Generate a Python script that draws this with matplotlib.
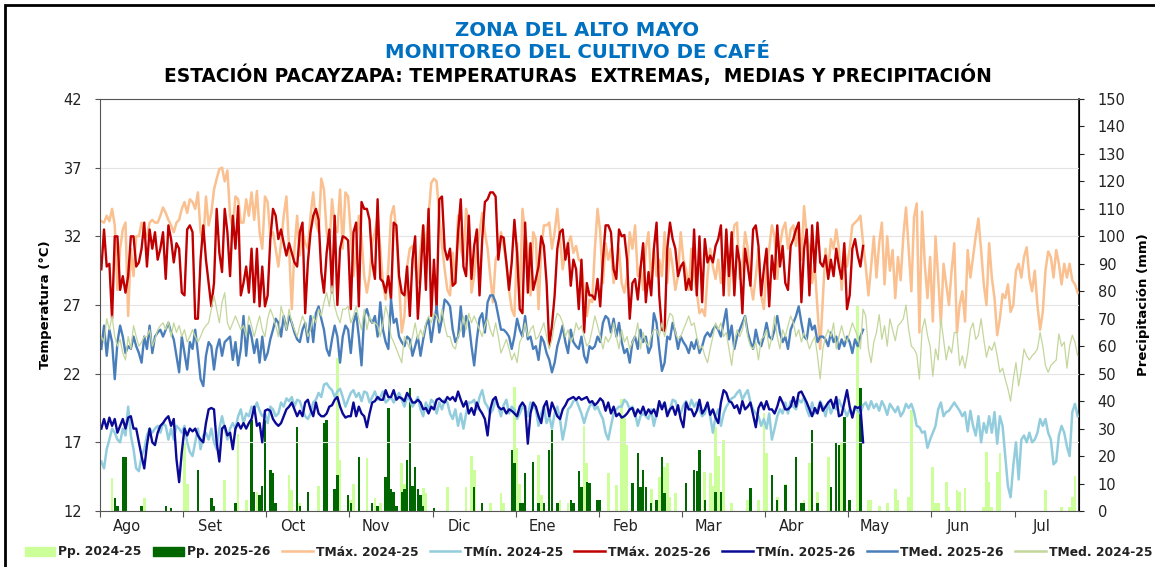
import numpy as np
import matplotlib
matplotlib.use("Agg")
import matplotlib.pyplot as plt
from matplotlib.patches import Patch, Rectangle
from matplotlib.lines import Line2D

# ---- datos diarios (indice 0 = 1 de agosto) ----
meses = ['Ago', 'Set', 'Oct', 'Nov', 'Dic', 'Ene', 'Feb', 'Mar', 'Abr', 'May', 'Jun', 'Jul']

tmax_2425 = [
    33.1, 33.0, 33.5, 33.1, 34.0, 32.8, 28.1, 31.1, 32.5, 33.0, 26.2, 31.1, 29.1, 32.0, 32.0, 33.0, 32.3, 32.0, 33.0, 33.2,
    33.0, 33.0, 33.5, 34.1, 33.7, 33.2, 32.8, 32.3, 33.0, 33.2, 34.0, 34.5, 33.7, 34.7, 34.5, 34.0, 35.2, 32.3, 31.5, 34.9,
    32.8, 33.7, 35.4, 36.2, 36.9, 37.0, 36.0, 36.8, 33.5, 32.5, 34.9, 34.7, 33.0, 33.0, 34.7, 33.5, 35.2, 33.2, 35.3, 32.3,
    31.1, 34.9, 34.5, 32.0, 32.3, 31.1, 29.8, 31.5, 33.5, 34.9, 31.1, 26.7, 31.1, 33.5, 30.6, 32.5, 31.5, 31.1, 33.5, 35.2,
    33.0, 32.3, 36.2, 35.4, 32.3, 31.1, 34.7, 32.8, 32.3, 35.4, 31.1,
    35.2, 34.9, 32.3, 29.1, 31.1, 33.5, 32.0, 29.1, 27.9, 29.1, 31.5, 32.3, 33.5, 31.1, 28.6, 27.4, 29.8, 33.5, 34.2, 32.3,
    28.6, 25.0, 26.2, 29.8, 31.1, 31.3, 29.8, 28.6, 31.1, 32.8, 31.1, 33.5, 35.9, 36.2, 36.0, 33.5, 31.3, 29.6, 28.1, 27.7,
    30.8, 28.6, 33.5, 31.1, 30.3, 34.0, 33.0, 27.9, 29.1, 31.1, 32.3, 33.7, 32.3, 31.1, 29.1, 27.2, 30.3, 30.8, 32.3, 31.3,
    30.1, 28.1, 26.7, 26.2, 31.5, 27.2, 34.0, 32.3, 31.1, 27.7, 32.3, 31.8, 26.7, 31.1, 32.8, 32.8, 33.0, 31.1, 32.3, 34.0,
    31.8, 29.6, 30.8, 31.5, 32.0, 30.8, 31.3, 30.3, 30.1, 27.9, 26.2, 27.4,
    27.2, 31.1, 34.0, 32.3, 28.6, 31.5, 30.3, 31.1, 28.6, 29.8, 31.1, 28.6, 27.9, 29.1, 32.3, 31.1, 32.8, 29.1, 29.8, 28.1,
    31.1, 32.3, 28.6, 31.1, 29.1, 30.3, 29.1, 32.3, 28.6, 31.1, 29.8, 28.1, 29.1, 32.3, 30.3, 29.6, 28.1, 31.1, 29.1, 27.9,
    26.4, 26.7, 26.2, 29.1, 31.1, 29.8, 28.9, 30.3, 28.6, 29.1, 32.3, 27.7, 31.1, 32.8, 33.0, 28.9, 29.8, 32.3, 31.1, 28.6,
    27.4, 29.1, 31.1, 27.7, 26.7, 29.8, 31.1, 32.8, 32.0, 28.9, 31.3, 32.5, 33.0, 31.1, 32.5, 32.8, 31.3, 33.0, 30.3, 34.2,
    32.0, 31.1, 28.6, 29.8, 26.7, 23.8, 27.4, 31.1, 29.4, 31.8, 31.1, 32.5, 31.1, 28.1, 31.1, 29.8, 31.1, 32.8, 33.0, 33.2,
    33.5, 31.5, 29.8, 27.7, 29.8, 32.0,
    29.0, 31.5, 33.0, 28.5, 32.0, 29.5, 31.0, 27.5, 30.5, 28.8, 32.0, 34.1, 31.0, 28.0, 33.4, 34.4, 25.0, 33.8, 30.0, 27.5,
    30.5, 25.8, 32.0, 29.0, 25.6, 30.0, 28.5, 27.0, 29.5, 31.5, 25.0, 27.0, 28.0, 25.8, 31.0, 29.0, 30.5, 32.0, 33.3, 31.0,
    28.5, 27.0, 31.5, 29.0, 27.5, 24.8, 26.0, 27.8, 27.5, 28.5, 26.5, 27.0, 29.5, 30.0, 29.0, 30.5, 31.2, 29.0, 28.0, 29.5,
    27.0, 25.2, 26.5, 29.5, 30.9, 30.5, 29.0, 31.0, 30.0, 28.5, 30.0, 29.0, 30.0, 28.8, 28.5, 27.9,
]

tmin_2425 = [
    15.6, 15.1, 16.5, 17.2, 18.0, 17.7, 17.2, 17.0, 18.0, 17.5, 19.6, 17.5, 16.5, 15.1, 14.9, 16.0, 16.5, 17.5, 18.0, 17.7,
    18.0, 18.2, 17.7, 18.4, 18.2, 17.2, 18.0, 17.2, 18.2, 18.0, 17.7, 18.2, 17.0, 16.3, 16.0, 17.0, 18.0, 16.5, 17.5, 17.7,
    17.2, 18.0, 17.0, 16.5, 18.0, 18.9, 18.0, 17.2, 18.0, 18.4, 18.0, 18.9, 19.4, 18.4, 19.1, 18.9, 19.6, 19.4, 19.9, 19.3,
    18.9, 19.1, 18.4, 19.6, 19.4, 18.9, 19.1, 19.9, 19.6, 20.2, 20.0, 20.3, 19.6, 20.1, 20.0, 19.4, 18.9, 18.7, 19.1, 19.9,
    20.1, 20.6, 20.3, 21.2, 21.3, 21.0, 20.8, 20.3, 20.7, 20.9, 20.3, 19.6, 20.1, 20.6, 20.8, 20.3, 20.6, 20.0, 20.7, 20.6,
    19.9, 20.3, 20.7, 20.1, 20.3, 20.7, 19.9, 20.1, 20.3, 19.9, 20.3, 20.6, 20.1, 19.6, 20.3, 20.1, 19.6, 19.9, 20.3, 19.4,
    18.9, 19.9, 19.4, 20.1, 19.9, 19.1, 19.9, 19.4, 20.1, 19.9, 19.1, 18.7, 19.4, 18.2, 19.1, 18.0, 19.1, 19.9,
    19.9, 20.1, 19.4, 20.3, 20.8, 19.9, 19.6, 19.1, 19.4, 20.1, 19.6, 18.9, 19.7, 20.1, 19.1, 19.6, 19.4, 18.7, 19.1, 19.6,
    19.4, 18.9, 19.9, 19.6, 19.4, 18.2, 19.1, 19.6, 18.4, 18.9, 18.0, 19.1, 19.6, 18.7, 17.2, 18.2, 19.4, 19.6, 20.0, 20.1,
    19.6, 19.1, 18.4, 19.1, 19.6, 19.9, 19.4, 19.6, 19.1, 18.7, 17.7, 17.2, 18.2, 19.1, 19.4, 19.6, 19.6, 20.1, 19.9, 19.4,
    19.6, 19.1, 18.2, 18.9, 19.1, 18.9, 18.7, 19.4, 18.2, 19.1, 19.9, 19.6, 19.9, 19.1, 19.4, 20.1, 20.0, 19.4, 19.1, 19.7,
    20.0, 19.4, 20.1, 19.6, 19.9, 19.4, 18.9, 19.1, 19.9, 18.9, 17.7, 18.9, 19.4, 18.2, 19.1, 19.6, 19.9, 20.2, 20.3, 20.6,
    20.8, 20.1, 20.5, 20.8, 19.9, 19.4, 19.1, 18.9, 18.2, 18.7, 18.0, 19.1, 17.2, 18.0, 18.9, 19.4, 19.1, 19.9, 19.1, 20.0,
    19.6, 19.4, 20.1, 19.9, 20.3, 19.4, 18.9, 19.9, 19.1, 19.4, 20.0, 19.6, 18.9, 19.9, 19.1, 19.6, 19.4, 20.1, 19.6, 19.4,
    18.9, 19.4, 19.0, 19.6, 19.3, 19.1, 19.7, 19.9, 19.4, 20.0,
    19.5, 19.8, 19.3, 20.0, 19.6, 19.0, 19.8, 19.5, 19.2, 19.6,
    18.9, 19.2, 19.8, 19.5, 19.8, 19.2, 18.2, 18.1, 17.7, 17.8, 16.6, 17.2, 17.7, 18.2, 19.4, 19.9, 18.9, 19.2, 19.3, 19.6,
    19.9, 19.6, 19.3, 18.9, 19.2, 17.8, 19.3, 18.2, 17.5, 18.9, 17.0, 18.4, 17.7, 18.9, 17.7, 19.2, 16.9, 18.9, 18.2, 16.0,
    13.8, 13.0, 15.3, 17.0, 14.3, 17.2, 17.5, 17.0, 17.7, 17.0, 17.2, 17.7, 18.7, 18.2, 18.7, 17.7, 17.2, 15.4, 15.6, 17.5,
    18.2, 17.7, 16.7, 16.0, 19.2, 19.8, 18.9,
]

tmed_2425 = [
    24.7, 24.3, 26.0, 25.2, 26.2, 24.7, 24.0, 24.5, 23.5, 23.0, 24.7, 23.8, 25.5, 24.7, 24.0, 24.3, 24.7, 24.7, 25.2, 24.0,
    24.5, 25.2, 25.5, 25.7, 25.2, 25.8, 24.7, 25.7, 25.0, 25.5, 24.7, 25.2, 24.3, 24.7, 25.2, 24.7, 24.3, 24.7, 25.2, 25.5,
    25.7, 26.7, 27.7, 26.7, 25.7, 27.2, 27.9, 25.7, 25.2, 25.7, 26.2, 25.7, 25.2, 25.5, 24.7, 26.2, 25.5, 24.7, 25.5, 26.2,
    25.2, 24.7, 26.0, 26.7, 26.2, 25.5, 24.7, 26.9, 26.2, 25.2, 26.7, 25.7, 25.2, 24.7, 25.5, 26.2, 25.7, 24.7, 25.2, 26.2,
    25.7, 26.7, 26.2, 27.2, 27.9, 26.9, 28.4, 26.9, 26.2, 25.7, 26.7,
    26.7, 26.9, 25.7, 26.2, 26.9, 26.0, 25.2, 26.7, 25.2, 26.2, 25.7, 25.7, 25.5, 24.7, 25.7, 26.9, 26.2, 24.7, 24.3, 23.8,
    23.3, 22.8, 24.7, 24.3, 23.8, 24.7, 25.7, 24.5, 25.2, 24.7, 25.7, 26.2, 25.7, 26.4, 26.2, 25.7, 26.7, 25.5, 24.7, 24.7,
    24.0, 23.8, 24.7, 25.2, 26.2, 25.2, 26.4, 25.7, 26.2, 25.7, 25.2, 24.7, 25.5, 26.0, 25.2, 24.7, 25.7, 24.7, 23.5, 24.0,
    24.5, 23.8, 23.0, 23.5, 22.8, 24.3, 24.7, 25.7, 24.7, 25.2, 25.5, 24.5, 24.7, 25.2, 25.7, 24.7, 23.8, 24.5, 25.7, 26.4,
    26.2, 25.7, 24.7, 25.2, 24.3, 24.7, 25.7, 25.2, 25.5, 24.7, 24.0, 24.3,
    25.2, 26.2, 25.5, 24.7, 23.8, 24.7, 24.3, 24.7, 25.7, 24.7, 23.8, 25.2, 24.3, 24.7, 23.8, 24.3, 24.7, 25.7, 23.8, 25.0,
    24.3, 24.0, 24.7, 25.2, 25.2, 24.7, 25.7, 24.7, 25.7, 26.4, 26.2, 25.0, 24.5, 24.7, 25.2, 25.7, 26.2, 25.5, 25.7, 24.7,
    23.8, 24.0, 23.3, 22.8, 23.8, 24.7, 25.7, 25.2, 25.7, 24.7, 25.0, 23.8, 22.6, 24.3, 25.2, 24.7, 25.2, 26.2, 24.7, 24.0,
    23.8, 24.3, 23.0, 24.5, 24.7, 25.2, 23.8, 24.7, 26.2, 24.7, 23.8, 25.2, 24.7, 25.5, 26.2, 25.7, 24.7, 25.2, 24.3, 25.0,
    24.5, 23.8, 24.3, 24.7, 23.3, 21.6, 23.8, 24.7, 25.2, 24.7, 25.7, 23.8, 24.7, 25.5, 24.7, 24.3, 25.0, 25.7, 25.2, 24.7,
    23.8, 26.7, 26.2, 23.8, 22.8, 24.3,
    25.0, 26.3, 24.5, 25.5, 24.0, 26.0, 25.2, 24.4, 25.5,
    25.7, 26.0, 27.0, 25.2, 24.0, 23.8, 23.4, 21.6, 25.2, 26.0, 24.8, 24.0, 21.8, 23.8, 23.0, 26.0, 24.5, 23.0, 24.0, 23.5,
    25.0, 25.0, 22.6, 23.3, 22.4, 23.5, 25.2, 25.7, 24.5, 24.8, 26.0, 24.5, 23.2, 24.0, 23.7, 24.3, 23.3, 22.1, 22.4, 21.6,
    20.9, 20.0, 21.6, 22.8, 21.1, 22.3, 23.8, 23.3, 23.0, 23.3, 23.5, 23.8, 25.0, 24.0, 22.6, 22.1, 22.6, 22.8, 23.0, 24.9,
    24.0, 24.3, 22.4, 24.0, 24.8, 24.3, 23.3,
]

tmax_2526 = [
    29.6, 32.5, 29.8, 30.0, 26.0, 32.0, 32.0, 28.1, 29.1, 27.9, 29.1, 32.0, 32.0, 29.8, 30.1, 31.1, 33.0, 29.8, 32.5, 31.1,
    32.3, 30.3, 31.1, 32.3, 28.9, 32.8, 31.8, 30.1, 31.5, 31.1, 27.9, 27.7, 32.5, 32.8, 32.3, 26.0, 26.0, 30.3, 32.8, 30.3,
    28.6, 26.9, 28.6, 34.0, 30.8, 29.4, 34.0, 32.3, 29.1, 33.5, 31.1, 34.2, 27.7, 28.6, 29.8, 27.9, 31.1, 27.2, 31.1, 26.9,
    29.8, 26.9, 27.7, 31.8, 34.0, 33.5, 31.8, 32.5, 31.5, 30.6, 31.5, 30.8, 30.1, 29.8, 32.3, 33.0, 26.4, 30.1, 32.3, 33.5,
    34.0, 33.2, 29.4, 27.9, 30.8, 32.5, 27.9, 33.5, 27.0, 31.1, 32.0,
    31.9, 31.7, 26.7, 32.3, 33.0, 26.9, 34.5, 34.0, 34.0, 33.2, 30.1, 28.9, 34.7, 28.9, 28.7, 27.9, 29.1, 27.4, 33.0, 32.8,
    29.1, 27.9, 27.7, 29.8, 26.2, 30.3, 32.0, 26.0, 29.1, 32.8, 28.1, 34.0, 26.2, 30.3, 26.7, 34.7, 34.9, 31.1, 30.3, 31.1,
    28.4, 28.6, 32.3, 34.7, 29.8, 29.1, 33.5, 28.9, 31.3, 32.5, 27.7, 31.8, 34.5, 34.7, 35.2, 35.2, 34.9, 30.3, 32.0, 31.9,
    30.1, 28.1, 30.1, 33.2, 30.8, 26.7, 26.4, 33.0, 27.9, 31.5, 28.1, 28.9, 29.8, 32.0, 31.3, 28.6, 24.0, 25.5, 27.7, 31.1,
    32.3, 32.5, 30.3, 31.5, 28.4, 30.3, 29.6, 26.7, 30.3, 25.0, 28.6, 27.7,
    27.7, 27.4, 28.9, 26.9, 30.3, 32.8, 32.8, 32.3, 29.6, 28.9, 32.5, 32.0, 32.1, 30.3, 26.0, 28.6, 28.9, 27.4, 29.6, 31.5,
    27.2, 29.4, 27.7, 31.1, 33.0, 27.7, 25.2, 25.1, 31.1, 33.0, 31.8, 31.1, 29.1, 29.8, 30.1, 28.1, 28.9, 28.1, 32.5, 27.7,
    32.0, 27.2, 31.8, 30.1, 30.6, 30.1, 31.3, 31.8, 32.8, 27.7, 32.5, 29.1, 32.3, 27.7, 31.3, 30.1, 26.4, 31.1, 29.8, 28.4,
    32.5, 32.8, 31.3, 27.7, 29.6, 31.1, 26.9, 30.6, 28.9, 32.8, 29.8, 31.3, 28.6, 28.1, 31.3, 31.8, 32.5, 33.0, 27.2, 31.1,
    32.5, 27.7, 32.8, 29.4, 33.0, 30.1, 29.8, 30.6, 28.9, 30.3, 29.1, 31.1, 29.8, 28.9, 31.5, 26.7, 27.7, 31.1, 31.8, 30.6,
    29.8, 31.3,
]

tmin_2526 = [
    18.0, 18.7, 18.0, 18.8, 18.2, 18.7, 17.7, 18.2, 18.7, 18.0, 18.8, 18.9, 18.0, 18.0, 17.0, 16.0, 15.1, 16.8, 18.0, 17.0,
    16.8, 17.7, 18.2, 18.4, 18.7, 18.9, 18.2, 18.7, 15.8, 14.1, 16.3, 18.0, 17.5, 18.0, 17.8, 18.0, 17.5, 17.2, 17.0, 18.4,
    19.4, 19.5, 19.4, 17.0, 15.6, 18.0, 18.2, 17.5, 17.7, 16.5, 18.0, 18.4, 18.0, 18.4, 18.0, 18.4, 18.7, 19.6, 18.2, 18.4,
    17.0, 19.3, 19.4, 19.3, 18.7, 18.4, 18.2, 18.4, 18.9, 19.4, 19.6, 19.9, 19.4, 18.9, 19.3, 18.9, 19.9, 20.1, 19.4, 18.9,
    19.9, 19.1, 18.9, 18.9, 19.1, 19.6, 19.7, 20.1, 20.3, 19.6, 19.1, 18.8, 18.9, 18.9, 19.9, 18.9, 19.6, 19.1, 18.9, 18.1,
    19.1, 19.9, 20.0, 20.3, 20.1, 20.1, 20.8, 20.3, 20.3, 20.8, 20.1, 20.3, 20.2, 20.0, 20.6, 20.3, 19.9, 19.9, 20.1, 19.9,
    19.4, 19.5, 19.1, 19.6, 19.4, 20.1, 20.2, 20.0, 19.9, 20.3, 20.1, 20.3, 20.0, 20.7, 20.1, 19.6, 20.0, 19.1,
    19.5, 19.0, 19.9, 19.4, 19.1, 18.7, 17.5, 19.4, 20.1, 20.3, 19.6, 19.4, 19.5, 19.1, 19.4, 19.3, 19.1, 18.9, 19.6, 19.9,
    19.6, 16.9, 19.1, 19.9, 19.6, 18.9, 18.4, 19.6, 20.0, 18.9, 19.9, 19.4, 18.9, 18.7, 19.4, 19.7, 20.1, 20.2, 20.3, 20.1,
    20.3, 20.1, 20.2, 20.3, 19.9, 20.0, 19.7, 19.9, 20.2, 20.0, 19.3, 19.9, 19.1, 19.6, 18.9, 19.1, 18.8, 18.9, 19.1, 19.4,
    19.5, 18.9, 19.4, 19.1, 19.6, 19.0, 19.4, 19.1, 19.4, 18.9, 20.0, 19.4, 19.9, 18.9, 19.4, 19.6, 19.0, 19.7, 18.7, 18.1,
    19.9, 19.4, 19.4, 18.9, 19.3, 20.1, 19.1, 19.4, 19.9, 19.0, 19.4, 18.8, 18.4, 19.9, 20.8, 20.6, 20.0, 19.9, 19.5, 19.7,
    19.1, 20.0, 19.4, 19.6, 19.9, 19.0, 18.1, 19.5, 19.9, 19.4, 20.0, 19.4, 19.4, 19.1, 19.6, 20.3, 19.9, 19.4, 19.4, 19.6,
    20.3, 19.6, 20.6, 20.7, 20.3, 19.9, 19.4, 18.9, 19.5, 19.1, 19.9, 19.3, 19.6, 19.9, 20.1, 19.5, 20.3, 18.9, 19.0, 19.9,
    20.8, 19.6, 18.8, 19.6, 19.5, 19.6, 17.0,
]

tmed_2526 = [
    23.8, 25.5, 23.3, 25.2, 24.3, 21.6, 24.3, 25.5, 24.7, 23.5, 24.0, 23.8, 24.7, 24.0, 23.5, 22.8, 24.7, 23.8, 25.5, 23.5,
    24.7, 25.0, 25.2, 24.7, 25.2, 25.7, 25.0, 24.5, 23.3, 22.1, 24.7, 23.5, 22.3, 24.3, 23.8, 25.2, 23.5, 21.6, 21.1, 23.3,
    24.3, 24.0, 22.3, 23.8, 24.5, 23.3, 24.3, 24.5, 24.7, 23.0, 24.3, 22.6, 23.8, 26.2, 23.3, 25.5, 24.7, 23.5, 24.5, 22.8,
    24.7, 23.0, 23.5, 24.5, 25.2, 26.0, 25.7, 24.7, 26.2, 25.2, 26.2, 25.7, 25.0, 24.5, 24.3, 25.2, 25.7, 24.3, 26.2, 24.3,
    26.4, 26.9, 26.0, 25.2, 23.8, 23.3, 24.5, 25.5, 24.7, 22.8, 24.7,
    25.5, 25.2, 23.5, 25.7, 26.4, 24.7, 22.6, 26.2, 26.7, 26.0, 25.7, 26.2, 24.7, 27.2, 25.2, 24.3, 23.8, 27.4, 25.7, 26.0,
    24.7, 24.3, 24.0, 24.7, 24.5, 23.3, 24.0, 24.7, 23.3, 24.5, 25.5, 26.0, 24.3, 25.7, 26.9, 25.0, 26.0, 27.4, 27.2, 26.9,
    25.2, 24.3, 24.7, 26.9, 24.7, 26.2, 25.7, 24.0, 22.6, 24.5, 26.0, 26.4, 25.0, 27.2, 27.7, 27.7, 27.2, 26.2, 25.2, 25.2,
    25.0, 24.7, 23.8, 24.7, 26.0, 25.2, 24.7, 26.2, 24.5, 24.7, 23.8, 24.0, 23.0, 24.7, 24.3, 23.5, 23.0, 22.1, 22.8, 24.0,
    24.7, 25.5, 24.3, 23.5, 25.2, 24.3, 24.0, 23.8, 24.7, 23.3, 22.8, 24.0,
    23.8, 24.0, 24.7, 24.3, 25.7, 26.2, 26.0, 25.0, 26.0, 24.7, 25.7, 24.3, 23.5, 23.8, 22.8, 24.3, 24.7, 23.8, 25.2, 24.3,
    24.7, 23.5, 24.0, 26.4, 25.7, 23.8, 22.2, 22.8, 24.7, 24.5, 25.7, 25.0, 23.8, 24.7, 24.3, 24.0, 23.5, 24.3, 23.8, 24.5,
    23.5, 24.0, 24.7, 25.0, 24.7, 25.2, 25.5, 25.2, 24.7, 25.7, 26.7, 24.5, 25.5, 23.8, 24.7, 25.2, 25.7, 26.2, 25.0, 24.3,
    23.8, 25.2, 24.3, 24.0, 24.7, 25.7, 24.7, 24.5, 25.2, 26.2, 25.0, 24.3, 24.7, 23.8, 25.2, 25.7, 26.2, 26.9, 25.7, 24.7,
    24.5, 26.0, 25.2, 25.5, 24.3, 24.7, 24.7, 24.5, 24.0, 25.0, 24.3, 24.7, 23.8, 24.5, 24.0, 24.7, 24.3, 23.5, 24.5, 24.0,
    24.7, 25.2,
]

# precipitacion: dia (indice) y lamina en mm; los demas dias 0
pp_2425_dia = [4, 16, 31, 32, 46, 51, 54, 58, 70, 71, 74, 81, 88, 89, 93, 94, 99, 102, 104, 112, 113, 120, 121, 129, 136,
               138, 139, 145, 149, 150, 154, 155, 156, 158, 163, 164, 171, 174, 180, 181, 189, 192, 194, 195, 196, 198,
               205, 208, 209, 210, 211, 212, 214, 225, 227, 228, 229, 230, 232, 235, 241, 245, 247, 248, 252, 255, 262,
               264, 267, 271, 275, 276, 282, 283, 286, 287, 290, 293, 296, 297, 301, 302, 310, 311, 312, 315, 316, 319,
               320, 322, 329, 330, 331, 332, 334, 335, 352, 358, 361, 362, 363]
pp_2425_mm = [12.0, 4.6, 24.6, 10.0, 11.3, 28.0, 4.0, 7.0, 13.1, 7.6, 3.0, 9.0, 55.6, 18.6, 4.0, 10.0, 19.2, 4.6, 3.0, 17.4,
              10.0, 8.4, 6.4, 8.9, 8.9, 20.0, 15.0, 3.0, 6.4, 3.0, 45.0, 23.0, 10.0, 13.8, 20.4, 6.0, 4.0, 3.0, 31.0, 17.4,
              13.8, 9.6, 40.8, 33.8, 24.0, 8.0, 8.0, 12.5, 19.8, 16.2, 17.4, 5.0, 6.4, 14.3, 13.8, 9.0, 30.7, 20.0, 25.8,
              3.0, 4.0, 4.0, 35.6, 21.0, 5.0, 10.0, 4.0, 17.4, 7.0, 19.8, 23.7, 24.9, 74.6, 30.0, 4.0, 4.0, 2.0, 3.0, 8.0,
              4.0, 5.2, 36.8, 16.2, 2.8, 2.8, 10.7, 1.5, 7.6, 7.0, 8.2, 1.6, 21.6, 10.7, 1.5, 14.3, 21.2, 7.6, 1.6, 1.6,
              5.2, 12.7]

pp_2526_dia = [5, 6, 8, 9, 15, 24, 26, 36, 41, 42, 50, 56, 57, 59, 60, 61, 63, 64, 65, 73, 74, 77, 83, 84, 87, 88, 92, 93,
               96, 101, 103, 106, 107, 108, 109, 110, 112, 113, 114, 115, 116, 117, 118, 119, 120, 124, 139, 142, 153,
               154, 156, 157, 158, 161, 163, 165, 167, 168, 170, 175, 176, 178, 179, 181, 182, 185, 186, 198, 200, 201,
               202, 203, 205, 207, 209, 210, 218, 221, 222, 223, 225, 229, 231, 242, 250, 252, 255, 259, 261, 262, 265,
               267, 272, 274, 275, 277, 279, 283]
pp_2526_mm = [4.7, 2.0, 19.8, 19.8, 2.0, 2.0, 1.0, 15.0, 4.6, 2.0, 3.0, 33.0, 7.0, 6.0, 9.0, 33.0, 15.0, 14.0, 3.0, 30.7,
              2.0, 7.0, 32.0, 33.0, 8.0, 13.0, 6.0, 3.0, 19.8, 3.0, 2.0, 12.5, 37.5, 8.0, 7.0, 2.0, 7.0, 8.0, 18.6, 44.7,
              9.0, 15.9, 8.0, 6.0, 2.0, 1.0, 8.9, 2.8, 22.2, 17.4, 2.8, 2.8, 13.8, 18.0, 2.8, 2.8, 22.2, 29.5, 2.8, 4.0,
              2.8, 14.4, 8.9, 10.7, 10.1, 4.0, 4.0, 10.1, 21.0, 8.9, 15.0, 8.9, 2.8, 4.0, 19.8, 6.4, 10.1, 15.0, 14.4,
              22.2, 4.0, 7.0, 7.0, 8.2, 13.1, 4.0, 9.5, 19.8, 2.8, 2.8, 29.5, 2.8, 8.9, 24.6, 24.0, 34.4, 4.0, 44.7]

N_DIAS = 365


def serie_pp(dias, mm, n):
    pp = np.zeros(n)
    pp[np.array(dias)] = mm
    return pp


def x_de(serie):
    return np.arange(len(serie)) + 0.5


W, H = 1155, 567
fig = plt.figure(figsize=(W / 100, H / 100), dpi=100)
fig.patch.set_facecolor('white')
ax = fig.add_axes([100 / W, 1 - 511 / H, (1079 - 100) / W, (511 - 99) / H])
ax2 = ax.twinx()
ax.set_zorder(2)
ax.patch.set_visible(False)

# barras de precipitacion (eje derecho)
pp1 = serie_pp(pp_2425_dia, pp_2425_mm, N_DIAS)
pp2 = serie_pp(pp_2526_dia, pp_2526_mm, len(tmax_2526))
ax2.bar(x_de(pp1), pp1, width=1.0, color='#CCFF99', linewidth=0)
ax2.bar(x_de(pp2), pp2, width=0.9, color='#006600', linewidth=0)
ax2.set_ylim(0, 150)
ax2.set_yticks(np.arange(0, 151, 10))

# temperaturas (eje izquierdo)
ax.plot(x_de(tmax_2425), tmax_2425, color='#FAC090', lw=1.8)
ax.plot(x_de(tmin_2425), tmin_2425, color='#93CDDD', lw=1.8)
ax.plot(x_de(tmax_2526), tmax_2526, color='#C00000', lw=1.7)
ax.plot(x_de(tmin_2526), tmin_2526, color='#0A0A96', lw=1.7)
ax.plot(x_de(tmed_2526), tmed_2526, color='#4A7EBB', lw=1.7)
ax.plot(x_de(tmed_2425), tmed_2425, color='#C3D69B', lw=0.9)

ax.set_ylim(12, 42)
ax.set_yticks(np.arange(12, 43, 5))
ax.set_xlim(0, N_DIAS)
ax.yaxis.grid(True, color='#E4E4E4', lw=0.8)
ax.set_axisbelow(True)

ax.set_xticks(np.arange(0, N_DIAS, 31))
ax.set_xticklabels([])
ax.set_xticks(np.arange(0, N_DIAS, 31) + 10, minor=True)
ax.set_xticklabels(meses, minor=True)
ax.tick_params(axis='x', which='major', direction='out', length=4, color='#555555')
ax.tick_params(axis='x', which='minor', length=0, pad=6, labelsize=10.5, labelcolor='#222222')
ax.tick_params(axis='y', direction='out', length=3.5, color='#555555', labelsize=10.5, labelcolor='#222222', pad=9.5)
ax2.tick_params(axis='y', direction='out', length=3.5, color='#222222', labelsize=10.5, labelcolor='#222222', pad=10)

for s in ['left', 'bottom', 'top']:
    ax.spines[s].set_color('#555555')
ax2.spines['right'].set_color('#111111')
ax2.spines['right'].set_linewidth(1.2)
for s in ['left', 'bottom', 'top']:
    ax2.spines[s].set_visible(False)

ax.set_ylabel('Temperatura (°C)', fontsize=9.5, fontweight='bold', labelpad=8)
ax2.set_ylabel('Precipitación (mm)', fontsize=9.5, fontweight='bold', labelpad=8)

# titulos
fig.text(0.5, 1 - 30 / H, 'ZONA DEL ALTO MAYO', ha='center', va='center',
         fontsize=14.2, fontweight='bold', color='#0070C0')
fig.text(0.5, 1 - 52 / H, 'MONITOREO DEL CULTIVO DE CAFÉ', ha='center', va='center',
         fontsize=14.2, fontweight='bold', color='#0070C0')
fig.text(0.5, 1 - 75 / H, 'ESTACIÓN PACAYZAPA: TEMPERATURAS  EXTREMAS,  MEDIAS Y PRECIPITACIÓN',
         ha='center', va='center', fontsize=13.4, fontweight='bold', color='black')

# leyenda
handles = [
    Patch(color='#CCFF99'),
    Patch(color='#006600'),
    Line2D([], [], color='#FAC090', lw=1.8),
    Line2D([], [], color='#93CDDD', lw=1.8),
    Line2D([], [], color='#C00000', lw=1.8),
    Line2D([], [], color='#0A0A96', lw=1.8),
    Line2D([], [], color='#4A7EBB', lw=1.8),
    Line2D([], [], color='#C3D69B', lw=1.8),
]
labels = ['Pp. 2024-25', 'Pp. 2025-26', 'TMáx. 2024-25', 'TMín. 2024-25',
          'TMáx. 2025-26', 'TMín. 2025-26', 'TMed. 2025-26', 'TMed. 2024-25']
leg = fig.legend(handles, labels, ncol=8, loc='center left', bbox_to_anchor=(20 / W, 1 - 552 / H),
                 frameon=False, handlelength=2.5, handletextpad=0.25, columnspacing=0.95,
                 borderaxespad=0, prop={'weight': 'bold', 'size': 8.8})
for t in leg.get_texts():
    t.set_color('#222222')

# marco de la figura
fig.patches.append(Rectangle((5 / W, -0.05), 2.0, 1 - 5 / H + 0.05, transform=fig.transFigure,
                             fill=False, edgecolor='black', lw=2))

fig.savefig('out.png', dpi=100)
